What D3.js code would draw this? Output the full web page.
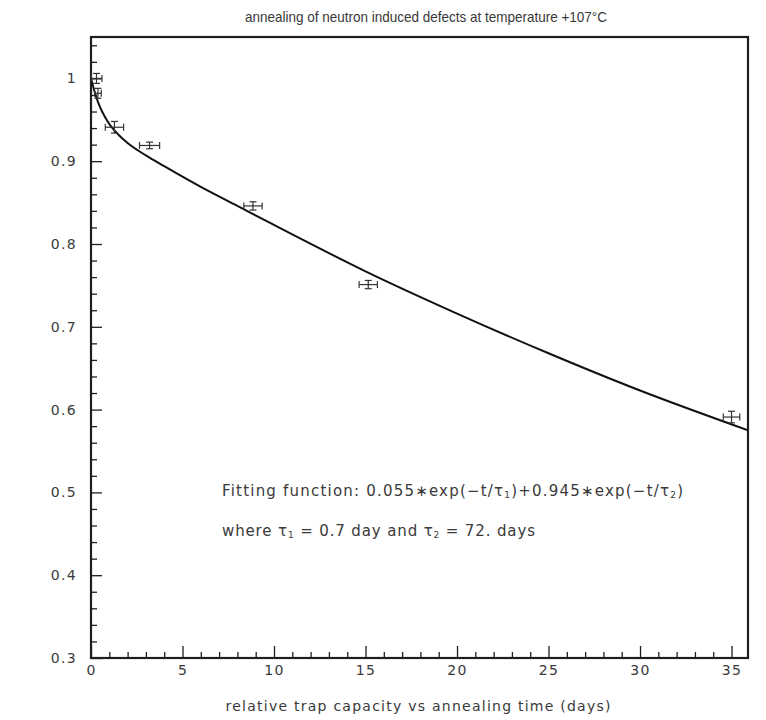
<!DOCTYPE html>
<html>
<head>
<meta charset="utf-8">
<script src="https://cdn.jsdelivr.net/npm/d3@7/dist/d3.min.js"></script>
<style>
  html, body { margin: 0; padding: 0; background: #fff; }
  svg { display: block; }
  text { font-family: "DejaVu Sans", "Liberation Sans", Arial, sans-serif; fill: #3a3a3a; }
</style>
</head>
<body>
<svg id="chart" width="766" height="720"></svg>
<script>
// ---- data ----
const titleText = "annealing of neutron induced defects at temperature +107°C";
const xAxisTitle = "relative trap capacity vs annealing time (days)";

const xMajorTicks = [0, 5, 10, 15, 20, 25, 30, 35];
const yMajorTicks = [0.3, 0.4, 0.5, 0.6, 0.7, 0.8, 0.9, 1.0];
const yTickLabels = ["0.3", "0.4", "0.5", "0.6", "0.7", "0.8", "0.9", "1"];

// measured points: time (days), relative trap capacity, errors
const pointT    = [0.3,  0.38,  1.28,  3.2,   8.85,  15.15, 35.0];
const pointV    = [1.0,  0.982, 0.941, 0.919, 0.846, 0.751, 0.591];
const pointTErr = [0.3,  0.18,  0.5,   0.55,  0.5,   0.5,   0.45];
const pointVErr = [0.006,0.006, 0.007, 0.004, 0.005, 0.005, 0.007];

// fitted curve as it appears on the picture
const curveT = [0, 0.25, 0.5, 0.75, 1.0, 1.5, 2.0, 3.0, 4.0, 6.0, 8.0, 10, 15, 20, 25, 30, 35.9];
const curveV = [1.0, 0.980, 0.965, 0.954, 0.945, 0.932, 0.922, 0.907, 0.894, 0.869, 0.846, 0.823, 0.767, 0.716, 0.668, 0.623, 0.575];

// ---- layout ----
const svg = d3.select("#chart");
const L = 91, R = 748, T = 37, B = 658;

const x = d3.scaleLinear().domain([0, 35.9]).range([L, R]);
const y = d3.scaleLinear().domain([0.3, 1.05]).range([B, T]);

const ink = "#1e1e1e";

// title
svg.append("text")
  .attr("x", 426).attr("y", 22)
  .attr("text-anchor", "middle")
  .attr("textLength", 362).attr("lengthAdjust", "spacingAndGlyphs")
  .style("font-family", "'Liberation Sans', Arial, sans-serif")
  .style("font-size", "14.5px")
  .text(titleText);

// minor ticks
const xMinor = d3.range(0, 36, 1).filter(v => v % 5 !== 0);
const yMinor = d3.range(0.32, 1.05, 0.02).filter(v => Math.abs(Math.round(v * 10) - v * 10) > 1e-6);

const xAxisMinor = svg.append("g").attr("transform", `translate(0,${B})`)
  .call(d3.axisBottom(x).tickValues(xMinor).tickSize(-6).tickFormat(""));
const xAxisMajor = svg.append("g").attr("transform", `translate(0,${B})`)
  .call(d3.axisBottom(x).tickValues(xMajorTicks).tickSize(-12).tickPadding(7).tickFormat(d3.format("d")));

const yAxisMinor = svg.append("g").attr("transform", `translate(${L},0)`)
  .call(d3.axisLeft(y).tickValues(yMinor).tickSize(-6).tickFormat(""));
const yAxisMajor = svg.append("g").attr("transform", `translate(${L},0)`)
  .call(d3.axisLeft(y).tickValues(yMajorTicks).tickSize(-11).tickPadding(14)
    .tickFormat((d, i) => yTickLabels[i]));

[xAxisMinor, xAxisMajor, yAxisMinor, yAxisMajor].forEach(g => {
  g.select(".domain").remove();
  g.selectAll(".tick line").attr("stroke", ink).attr("stroke-width", 1.3);
  g.selectAll(".tick text")
    .style("font-family", "'DejaVu Sans', 'Liberation Sans', Arial, sans-serif")
    .style("font-size", "14px")
    .style("letter-spacing", "1.3px")
    .attr("fill", "#3a3a3a");
});

// frame
svg.append("rect")
  .attr("x", L).attr("y", T)
  .attr("width", R - L).attr("height", B - T)
  .attr("fill", "none").attr("stroke", ink).attr("stroke-width", 2.2);

// clip for curve
svg.append("clipPath").attr("id", "clip")
  .append("rect").attr("x", L).attr("y", T).attr("width", R - L).attr("height", B - T);

// fitted curve
const curveData = curveT.map((t, i) => [t, curveV[i]]);
svg.append("path")
  .datum(curveData)
  .attr("clip-path", "url(#clip)")
  .attr("fill", "none")
  .attr("stroke", "#111")
  .attr("stroke-width", 2)
  .attr("d", d3.line().x(d => x(d[0])).y(d => y(d[1])).curve(d3.curveMonotoneX));

// error bars
const pts = pointT.map((t, i) => ({t, v: pointV[i], te: pointTErr[i], ve: pointVErr[i]}));
const eb = svg.append("g").attr("stroke", "#333").attr("stroke-width", 1.2).attr("fill", "none");
const cap = 3.5;
pts.forEach(p => {
  const cx = x(p.t), cy = y(p.v);
  const x0 = x(p.t - p.te), x1 = x(p.t + p.te);
  const y0 = y(p.v - p.ve), y1 = y(p.v + p.ve);
  eb.append("line").attr("x1", x0).attr("x2", x1).attr("y1", cy).attr("y2", cy);
  eb.append("line").attr("x1", x0).attr("x2", x0).attr("y1", cy - cap).attr("y2", cy + cap);
  eb.append("line").attr("x1", x1).attr("x2", x1).attr("y1", cy - cap).attr("y2", cy + cap);
  eb.append("line").attr("x1", cx).attr("x2", cx).attr("y1", y0).attr("y2", y1);
  eb.append("line").attr("x1", cx - cap).attr("x2", cx + cap).attr("y1", y0).attr("y2", y0);
  eb.append("line").attr("x1", cx - cap).attr("x2", cx + cap).attr("y1", y1).attr("y2", y1);
});

// annotation
const ann1 = svg.append("text").attr("x", 222).attr("y", 496)
  .attr("textLength", 461).attr("lengthAdjust", "spacing")
  .style("font-size", "15px");
ann1.append("tspan").text("Fitting function: 0.055∗exp(−t/τ");
ann1.append("tspan").attr("baseline-shift", "-25%").style("font-size", "9px").text("1");
ann1.append("tspan").text(")+0.945∗exp(−t/τ");
ann1.append("tspan").attr("baseline-shift", "-25%").style("font-size", "9px").text("2");
ann1.append("tspan").text(")");

const ann2 = svg.append("text").attr("x", 222).attr("y", 536)
  .attr("textLength", 313).attr("lengthAdjust", "spacing")
  .style("font-size", "15px");
ann2.append("tspan").text("where τ");
ann2.append("tspan").attr("baseline-shift", "-25%").style("font-size", "9px").text("1");
ann2.append("tspan").text(" = 0.7 day and τ");
ann2.append("tspan").attr("baseline-shift", "-25%").style("font-size", "9px").text("2");
ann2.append("tspan").text(" = 72. days");

// x axis title
svg.append("text")
  .attr("x", 418).attr("y", 711)
  .attr("text-anchor", "middle")
  .attr("textLength", 385).attr("lengthAdjust", "spacing")
  .style("font-size", "14px")
  .text(xAxisTitle);
</script>
</body>
</html>
